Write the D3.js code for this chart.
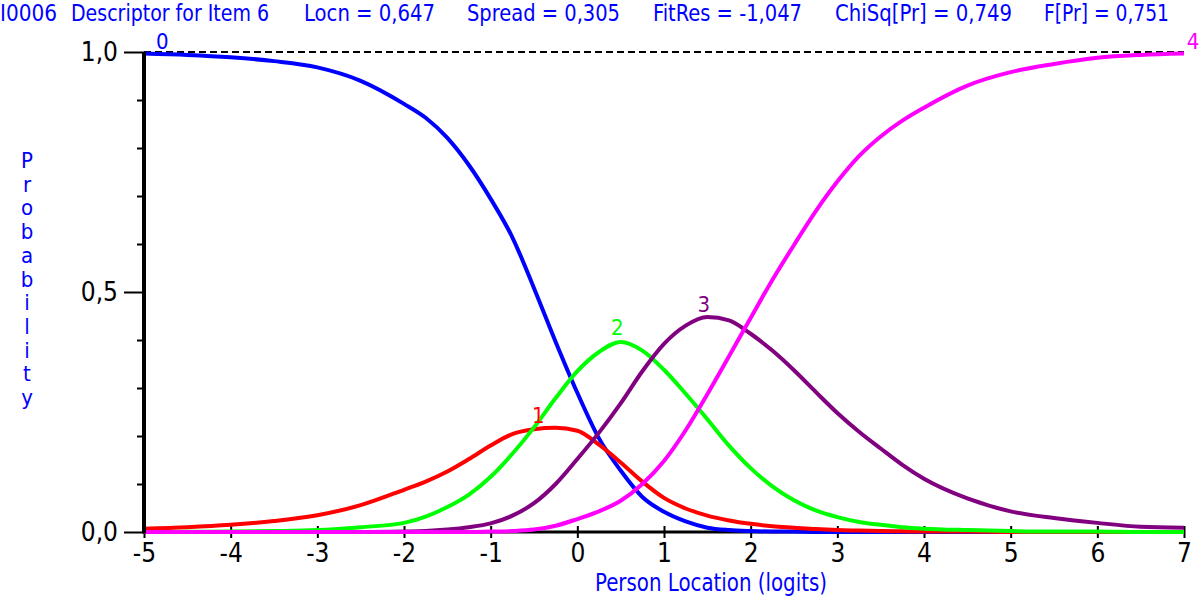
<!DOCTYPE html>
<html>
<head>
<meta charset="utf-8">
<script src="https://cdn.jsdelivr.net/npm/d3@7"></script>
<style>
  html, body { margin: 0; padding: 0; background: #fff; }
  svg { display: block; }
  text { font-family: "Liberation Sans Narrow", "Arial Narrow", "DejaVu Sans Condensed", sans-serif; }
</style>
</head>
<body>
<div id="chart"></div>
<script>
// data //
const locations = [-5, -4.5, -4, -3.5, -3, -2.5, -2, -1.75, -1.5, -1.25, -1, -0.75, -0.5, -0.25, 0, 0.25, 0.5, 0.75, 1, 1.25,
  1.5, 1.75, 2, 2.25, 2.5, 2.75, 3, 3.25, 3.5, 3.75, 4, 4.5, 5, 5.5, 6, 6.5, 7]
const cat0 = [0.997, 0.994, 0.989, 0.981, 0.968, 0.940, 0.892, 0.863, 0.821, 0.764, 0.694, 0.614, 0.508, 0.396, 0.290, 0.195, 0.128, 0.073, 0.042, 0.022,
  0.009, 0.004, 0.002, 0.001, 0.001, 0, 0, 0, 0, 0, 0, 0, 0, 0, 0, 0, 0]
const cat1 = [0.007, 0.010, 0.015, 0.023, 0.035, 0.056, 0.088, 0.105, 0.126, 0.152, 0.180, 0.204, 0.214, 0.217, 0.211, 0.182, 0.145, 0.105, 0.071, 0.049,
  0.034, 0.024, 0.017, 0.012, 0.009, 0.006, 0.004, 0.003, 0.002, 0.0015, 0.001, 0.001, 0, 0, 0, 0, 0]
const cat2 = [0, 0.0005, 0.001, 0.002, 0.004, 0.010, 0.019, 0.032, 0.052, 0.078, 0.115, 0.163, 0.218, 0.279, 0.335, 0.375, 0.396, 0.378, 0.338, 0.288,
  0.235, 0.180, 0.133, 0.095, 0.066, 0.045, 0.031, 0.021, 0.015, 0.010, 0.007, 0.004, 0.002, 0.001, 0.001, 0, 0]
const cat3 = [0, 0, 0, 0, 0, 0, 0.001, 0.002, 0.005, 0.010, 0.018, 0.034, 0.060, 0.100, 0.152, 0.207, 0.268, 0.335, 0.392, 0.430,
  0.448, 0.441, 0.413, 0.378, 0.337, 0.292, 0.248, 0.209, 0.174, 0.140, 0.111, 0.070, 0.043, 0.029, 0.019, 0.011, 0.009]
const cat4 = [0, 0, 0, 0, 0, 0, 0, 0, 0, 0, 0.001, 0.002, 0.005, 0.013, 0.027, 0.043, 0.065, 0.100, 0.148, 0.212,
  0.287, 0.366, 0.446, 0.525, 0.598, 0.668, 0.730, 0.783, 0.824, 0.857, 0.884, 0.930, 0.958, 0.975, 0.988, 0.994, 0.997]

const categories = ['0', '1', '2', '3', '4']
const series = [cat0, cat1, cat2, cat3, cat4]
const colors = ['#0000ff', '#ff0000', '#00ff00', '#800080', '#ff00ff']

const xTicks = [-5, -4, -3, -2, -1, 0, 1, 2, 3, 4, 5, 6, 7]
const yTicks = [0, 0.5, 1]
const yMinor = [0.1, 0.2, 0.3, 0.4, 0.6, 0.7, 0.8, 0.9]

const titleParts = [
  { text: 'I0006', x: 0, w: 57 },
  { text: 'Descriptor for Item 6', x: 71, w: 198 },
  { text: 'Locn = 0,647', x: 304, w: 131 },
  { text: 'Spread = 0,305', x: 467, w: 153 },
  { text: 'FitRes = -1,047', x: 653, w: 149 },
  { text: 'ChiSq[Pr] = 0,749', x: 835, w: 177 },
  { text: 'F[Pr] = 0,751', x: 1044, w: 125 }
]
const xTitle = 'Person Location (logits)'
const yTitle = 'Probability'

// curve label spots (logit, probability)
const labelSpots = [[-4.79, 1.0], [-0.45, 0.221], [0.46, 0.404], [1.46, 0.452], [7.105, 1.0]]

// svg //
const width = 1200
const height = 599
const blue = '#0000ff'

const svg = d3.select('#chart').append('svg')
  .attr('width', width)
  .attr('height', height)

const x = d3.scaleLinear().domain([-5, 7]).range([144, 1184])
const y = d3.scaleLinear().domain([0, 1]).range([532, 52])

// title line
svg.append('g')
  .selectAll('text')
  .data(titleParts)
  .enter()
  .append('text')
  .attr('x', d => d.x)
  .attr('y', 21)
  .attr('textLength', d => d.w)
  .attr('lengthAdjust', 'spacingAndGlyphs')
  .style('font-size', '23px')
  .attr('fill', blue)
  .text(d => d.text)

// dashed line at 1,0
svg.append('line')
  .attr('x1', x(-5)).attr('x2', x(7))
  .attr('y1', y(1)).attr('y2', y(1))
  .attr('stroke', '#000')
  .attr('stroke-width', 2)
  .attr('stroke-dasharray', '7,4')

// x axis
const xAxis = svg.append('g')
  .attr('transform', `translate(0, ${y(0)})`)
  .call(d3.axisBottom(x).tickValues(xTicks).tickSize(6).tickFormat(d => String(d)))
xAxis.select('.domain').remove()
xAxis.selectAll('.tick line')
  .attr('y1', -6)
  .attr('stroke-width', 2)
xAxis.selectAll('.tick text')
  .attr('y', 30)
  .attr('dy', 0)
  .style('font-size', '26px')
  .attr('fill', '#000')

// y axis
const yAxis = svg.append('g')
  .attr('transform', `translate(${x(-5)}, 0)`)
  .call(d3.axisLeft(y).tickValues(yTicks).tickSize(20).tickFormat(d => d.toFixed(1).replace('.', ',')))
yAxis.select('.domain').remove()
yAxis.selectAll('.tick line').attr('stroke-width', 2)
yAxis.selectAll('.tick text')
  .attr('x', -26)
  .attr('dy', '0.34em')
  .style('font-size', '26px')
  .attr('fill', '#000')

const yMinorAxis = svg.append('g')
  .attr('transform', `translate(${x(-5)}, 0)`)
  .call(d3.axisLeft(y).tickValues(yMinor).tickSize(7).tickFormat(''))
yMinorAxis.select('.domain').remove()
yMinorAxis.selectAll('.tick line').attr('stroke-width', 2)

svg.append('line')
  .attr('x1', x(-5)).attr('x2', x(7))
  .attr('y1', y(0)).attr('y2', y(0))
  .attr('stroke', '#000')
  .attr('stroke-width', 3)

// curves
const line = d3.line()
  .x((d, i) => x(locations[i]))
  .y(d => y(d))
  .curve(d3.curveMonotoneX)

svg.append('g')
  .selectAll('path')
  .data(series)
  .enter()
  .append('path')
  .attr('d', d => line(d))
  .attr('fill', 'none')
  .attr('stroke', (d, i) => colors[i])
  .attr('stroke-width', 4)

svg.append('line')
  .attr('x1', x(-5)).attr('x2', x(-5))
  .attr('y1', y(1)).attr('y2', y(0) + 1.5)
  .attr('stroke', '#000')
  .attr('stroke-width', 4)

// curve labels
svg.append('g')
  .selectAll('text')
  .data(categories)
  .enter()
  .append('text')
  .attr('x', (d, i) => x(labelSpots[i][0]))
  .attr('y', (d, i) => y(labelSpots[i][1]) - 3)
  .attr('text-anchor', 'middle')
  .style('font-size', '22px')
  .attr('fill', (d, i) => colors[i])
  .text(d => d)

// axis titles
svg.append('text')
  .attr('x', 595)
  .attr('y', 591)
  .attr('textLength', 232)
  .attr('lengthAdjust', 'spacingAndGlyphs')
  .style('font-size', '24px')
  .attr('fill', blue)
  .text(xTitle)

svg.append('g')
  .selectAll('text')
  .data(yTitle.split(''))
  .enter()
  .append('text')
  .attr('x', 27)
  .attr('y', (d, i) => 168 + i * 23.7)
  .attr('text-anchor', 'middle')
  .style('font-size', '22px')
  .attr('fill', blue)
  .text(d => d)
</script>
</body>
</html>
